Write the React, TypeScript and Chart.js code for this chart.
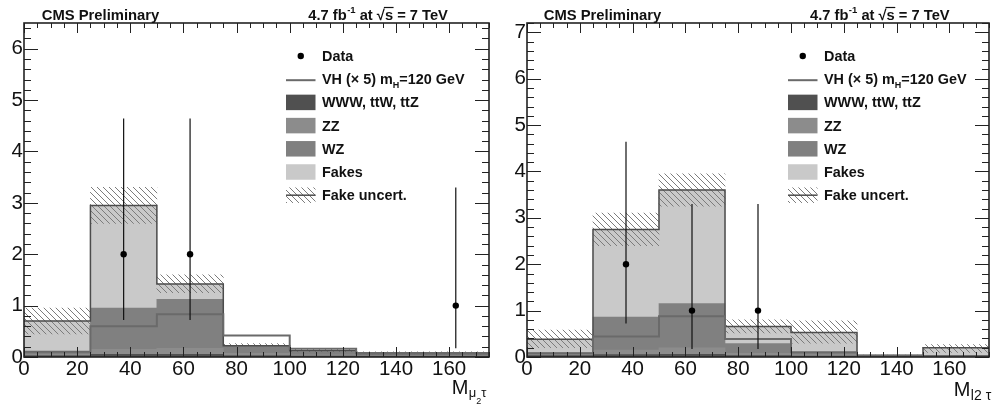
import React, { useEffect, useRef } from 'react';
import { Chart, registerables } from 'chart.js';

Chart.register(...registerables);

// ---------- shared bins / ticks ----------
const binLabels = ['0-25', '25-50', '50-75', '75-100', '100-125', '125-150', '150-175'];
const binEdges = [0, 25, 50, 75, 100, 125, 150, 175];
const legendLabels = ['Data', 'VH (× 5) m', 'WWW, ttW, ttZ', 'ZZ', 'WZ', 'Fakes', 'Fake uncert.'];
const headerLeft = 'CMS Preliminary';

// ---------- left panel: M_{mu2 tau} ----------
const muWWW = [0.03, 0.05, 0.05, 0.03, 0.02, 0.02, 0.02];
const muZZ = [0.02, 0.10, 0.12, 0.04, 0.02, 0.01, 0.01];
const muWZ = [0.05, 0.80, 0.95, 0.15, 0.06, 0.03, 0.03];
const muFakes = [0.60, 2.00, 0.30, 0.00, 0.02, 0.01, 0.01];
const muUncLo = [0.45, 2.60, 1.25, 0.19, 0.09, 0.04, 0.04];
const muUncHi = [0.95, 3.30, 1.60, 0.26, 0.17, 0.10, 0.10];
const muVH = [0.10, 0.60, 0.83, 0.42, 0.16, 0.08, 0.08];
const muDataX = [37.5, 62.5, 162.5];
const muDataY = [2, 2, 1];
const muDataLo = [0.72, 0.72, 0.17];
const muDataHi = [4.64, 4.64, 3.30];

// ---------- right panel: M_{l2 tau} ----------
const lWWW = [0.03, 0.05, 0.06, 0.03, 0.02, 0.01, 0.01];
const lZZ = [0.02, 0.10, 0.14, 0.05, 0.03, 0.01, 0.01];
const lWZ = [0.04, 0.71, 0.95, 0.21, 0.05, 0.01, 0.00];
const lFakes = [0.29, 1.89, 2.45, 0.37, 0.43, 0.00, 0.18];
const lUncLo = [0.20, 2.40, 3.25, 0.52, 0.30, 0.02, 0.10];
const lUncHi = [0.58, 3.10, 3.95, 0.80, 0.78, 0.04, 0.27];
const lVH = [0.08, 0.44, 0.88, 0.39, 0.10, 0.03, 0.02];
const lDataX = [37.5, 62.5, 87.5];
const lDataY = [2, 1, 1];
const lDataLo = [0.72, 0.17, 0.17];
const lDataHi = [4.64, 3.30, 3.30];

const FONT = '"Liberation Sans", Arial, Helvetica, sans-serif';

type Sub = { t: string; size: number; dy: number };
type PanelCfg = {
  www: number[]; zz: number[]; wz: number[]; fakes: number[];
  uncLo: number[]; uncHi: number[]; vh: number[];
  dataX: number[]; dataY: number[]; dataLo: number[]; dataHi: number[];
  yMax: number; yAxisWidth: number; padRight: number;
  legendX: number; headerX: number; lumiX: number;
  titleX: number; titleBase: number; titleSubs: Sub[];
};

const COLORS = {
  www: '#505050',
  zz: '#8c8c8c',
  wz: '#808080',
  fakes: '#c9c9c9',
  vh: '#6a6a6a',
  total: '#4c4c4c',
  hatch: '#7c7c7c',
};

function makeHatch(color: string, s: number): CanvasPattern | string {
  const c = document.createElement('canvas');
  c.width = s; c.height = s;
  const g = c.getContext('2d');
  if (!g) return color;
  g.strokeStyle = color;
  g.lineWidth = 1;
  g.beginPath();
  for (let k = -1; k <= 1; k++) {
    g.moveTo(k * s, 0);
    g.lineTo(k * s + s, s);
  }
  g.stroke();
  return g.createPattern(c, 'repeat') || color;
}

function drawLumi(ctx: CanvasRenderingContext2D, x0: number, y: number) {
  const big = `bold 14.7px ${FONT}`;
  const small = `bold 9.5px ${FONT}`;
  let x = x0;
  ctx.font = big; ctx.fillText('4.7 fb', x, y); x += ctx.measureText('4.7 fb').width + 0.5;
  ctx.font = small; ctx.fillText('-1', x, y - 6.5); x += ctx.measureText('-1').width;
  ctx.font = big;
  ctx.fillText(' at ', x, y); x += ctx.measureText(' at ').width;
  ctx.fillText('√', x, y); x += ctx.measureText('√').width;
  const sw = ctx.measureText('s').width;
  ctx.fillText('s', x, y);
  ctx.save(); ctx.lineWidth = 1.2; ctx.strokeStyle = '#111';
  ctx.beginPath(); ctx.moveTo(x - 1, y - 12); ctx.lineTo(x + sw + 0.5, y - 12); ctx.stroke();
  ctx.restore();
  x += sw;
  ctx.fillText(' = 7 TeV', x, y);
}

function rootPlugin(p: PanelCfg, hatch: CanvasPattern | string) {
  return {
    id: 'rootStyle',
    afterDatasetsDraw(chart: any) {
      const { ctx, chartArea: a } = chart;
      const ys = chart.scales.y;
      const xs = chart.scales.x;
      ctx.save();
      ctx.strokeStyle = '#222';
      ctx.lineWidth = 1;
      ctx.beginPath();
      for (let k = 0; k * 0.2 <= p.yMax + 1e-9; k++) {
        const py = Math.round(ys.getPixelForValue(k * 0.2)) + 0.5;
        const len = k % 5 === 0 ? 14 : 7;
        ctx.moveTo(a.left, py); ctx.lineTo(a.left + len, py);
        ctx.moveTo(a.right, py); ctx.lineTo(a.right - len, py);
      }
      for (let k = 0; k * 5 <= 175; k++) {
        const px = Math.round(xs.getPixelForValue(k * 5)) + 0.5;
        const len = k % 4 === 0 ? 10 : 5;
        ctx.moveTo(px, a.bottom); ctx.lineTo(px, a.bottom - len);
        ctx.moveTo(px, a.top); ctx.lineTo(px, a.top + len);
      }
      ctx.stroke();
      ctx.lineWidth = 1.6;
      ctx.strokeRect(a.left, a.top, a.right - a.left, a.bottom - a.top);
      ctx.restore();
    },
    afterDraw(chart: any) {
      const ctx: CanvasRenderingContext2D = chart.ctx;
      ctx.save();
      ctx.fillStyle = '#111';
      ctx.textBaseline = 'alphabetic';
      ctx.textAlign = 'left';
      // header
      ctx.font = `bold 14.8px ${FONT}`;
      ctx.fillText(headerLeft, p.headerX, 19.5);
      drawLumi(ctx, p.lumiX, 19.5);
      // axis title
      ctx.font = `20px ${FONT}`;
      let tx = p.titleX;
      ctx.fillText('M', tx, p.titleBase);
      tx += ctx.measureText('M').width + 0.5;
      for (const s of p.titleSubs) {
        ctx.font = `${s.size}px ${FONT}`;
        ctx.fillText(s.t, tx, p.titleBase + s.dy);
        tx += ctx.measureText(s.t).width;
      }
      // legend
      const rows = [56, 79.2, 102.4, 125.6, 148.8, 172, 195.2];
      const bx = p.legendX, bw = 29.5, bh = 15.5;
      const textX = bx + bw + 6.5;
      // Data
      ctx.beginPath(); ctx.arc(bx + bw / 2, rows[0], 3.2, 0, Math.PI * 2); ctx.fillStyle = '#000'; ctx.fill();
      // VH line
      ctx.strokeStyle = COLORS.vh; ctx.lineWidth = 2;
      ctx.beginPath(); ctx.moveTo(bx, rows[1] + 1); ctx.lineTo(bx + bw, rows[1] + 1); ctx.stroke();
      // boxes
      const boxCols = [COLORS.www, COLORS.zz, COLORS.wz, COLORS.fakes];
      boxCols.forEach((c, i) => {
        ctx.fillStyle = c;
        ctx.fillRect(bx, rows[2 + i] - bh / 2, bw, bh);
      });
      // hatch
      ctx.fillStyle = hatch as any;
      ctx.fillRect(bx, rows[6] - bh / 2, bw, bh);
      ctx.strokeStyle = COLORS.total; ctx.lineWidth = 1.5;
      ctx.beginPath(); ctx.moveTo(bx, rows[6]); ctx.lineTo(bx + bw, rows[6]); ctx.stroke();
      // texts
      ctx.fillStyle = '#111';
      const lf = `bold 14.4px ${FONT}`;
      legendLabels.forEach((t, i) => {
        const by = rows[i] + 5;
        ctx.font = lf;
        ctx.fillText(t, textX, by);
        if (i === 1) {
          let x2 = textX + ctx.measureText(t).width;
          ctx.font = `bold 9px ${FONT}`;
          ctx.fillText('H', x2, by + 4);
          x2 += ctx.measureText('H').width;
          ctx.font = lf;
          ctx.fillText('=120 GeV', x2, by);
        }
      });
      ctx.restore();
    },
  };
}

function Panel({ cfg, width, height }: { cfg: PanelCfg; width: number; height: number }) {
  const ref = useRef<HTMLCanvasElement | null>(null);
  useEffect(() => {
    if (!ref.current) return;
    const hatch = makeHatch(COLORS.hatch, 6);
    const total = cfg.www.map((_, i) => cfg.www[i] + cfg.zz[i] + cfg.wz[i] + cfg.fakes[i]);
    const stepPts = (vals: number[]) => binEdges.map((x, i) => ({ x, y: vals[Math.min(i, vals.length - 1)] }));
    const errPts: any[] = [];
    cfg.dataX.forEach((x, i) => {
      errPts.push({ x, y: cfg.dataLo[i] }, { x, y: cfg.dataHi[i] }, { x, y: null });
    });
    const barCommon = { xAxisID: 'bin', yAxisID: 'y', grouped: false, barPercentage: 1, categoryPercentage: 1, borderWidth: 0, order: 5 };
    const tickFont = { family: FONT, size: 20.5 };
    const chart = new Chart(ref.current, {
      type: 'bar',
      data: {
        datasets: [
          { type: 'line', label: 'Data', data: cfg.dataX.map((x, i) => ({ x, y: cfg.dataY[i] })), showLine: false, pointRadius: 3.2, pointBackgroundColor: '#000', pointBorderWidth: 0, xAxisID: 'x', yAxisID: 'y', order: 0 } as any,
          { type: 'line', label: 'Data error', data: errPts, borderColor: '#111', borderWidth: 1.2, pointRadius: 0, spanGaps: false, fill: false, xAxisID: 'x', yAxisID: 'y', order: 1 } as any,
          { type: 'line', label: 'VH (x5) mH=120 GeV', data: stepPts(cfg.vh), stepped: true, borderColor: COLORS.vh, borderWidth: 2, pointRadius: 0, fill: false, xAxisID: 'x', yAxisID: 'y', order: 2 } as any,
          { type: 'line', label: 'Total', data: stepPts(total), stepped: true, borderColor: COLORS.total, borderWidth: 1.5, pointRadius: 0, fill: false, xAxisID: 'x', yAxisID: 'y', order: 3 } as any,
          { type: 'bar', label: 'Fake uncert.', data: cfg.uncLo.map((l, i) => [l, cfg.uncHi[i]]), backgroundColor: hatch, ...barCommon, order: 4 } as any,
          { type: 'bar', label: 'WWW, ttW, ttZ', data: cfg.www, backgroundColor: COLORS.www, stack: 'bg', ...barCommon } as any,
          { type: 'bar', label: 'ZZ', data: cfg.zz, backgroundColor: COLORS.zz, stack: 'bg', ...barCommon } as any,
          { type: 'bar', label: 'WZ', data: cfg.wz, backgroundColor: COLORS.wz, stack: 'bg', ...barCommon } as any,
          { type: 'bar', label: 'Fakes', data: cfg.fakes, backgroundColor: COLORS.fakes, stack: 'bg', ...barCommon } as any,
        ],
      },
      options: {
        responsive: false,
        animation: false,
        devicePixelRatio: 1,
        events: [],
        layout: { padding: { top: 23, right: cfg.padRight, left: 0, bottom: 0 } },
        plugins: { legend: { display: false }, tooltip: { enabled: false }, title: { display: false } },
        scales: {
          x: {
            type: 'linear', position: 'bottom', min: 0, max: 175, offset: false,
            ticks: { stepSize: 20, includeBounds: false, padding: 0, color: '#111', font: tickFont, maxRotation: 0, autoSkip: false },
            grid: { display: false, drawTicks: false },
            border: { display: false },
            afterFit: (s: any) => { s.height = height - 357; },
          },
          bin: {
            type: 'category', axis: 'x', position: 'bottom', labels: binLabels, display: false, offset: true,
            grid: { display: false },
          },
          y: {
            type: 'linear', position: 'left', min: 0, max: cfg.yMax,
            ticks: { stepSize: 1, includeBounds: false, padding: 1, color: '#111', font: tickFont },
            grid: { display: false, drawTicks: false },
            border: { display: false },
            afterFit: (s: any) => { s.width = cfg.yAxisWidth; },
          },
        } as any,
      },
      plugins: [rootPlugin(cfg, hatch) as any],
    });
    return () => chart.destroy();
  }, [cfg, width, height]);
  return <canvas ref={ref} width={width} height={height} style={{ width, height, display: 'block' }} />;
}

const leftCfg: PanelCfg = {
  www: muWWW, zz: muZZ, wz: muWZ, fakes: muFakes, uncLo: muUncLo, uncHi: muUncHi, vh: muVH,
  dataX: muDataX, dataY: muDataY, dataLo: muDataLo, dataHi: muDataHi,
  yMax: 6.5, yAxisWidth: 24, padRight: 7,
  legendX: 286, headerX: 41.7, lumiX: 308.3,
  titleX: 451.7, titleBase: 394,
  titleSubs: [{ t: 'μ', size: 13, dy: 3 }, { t: '2', size: 9, dy: 10 }, { t: 'τ', size: 13, dy: 3 }],
};

const rightCfg: PanelCfg = {
  www: lWWW, zz: lZZ, wz: lWZ, fakes: lFakes, uncLo: lUncLo, uncHi: lUncHi, vh: lVH,
  dataX: lDataX, dataY: lDataY, dataLo: lDataLo, dataHi: lDataHi,
  yMax: 7.2, yAxisWidth: 30, padRight: 2,
  legendX: 291, headerX: 46.7, lumiX: 313,
  titleX: 456.7, titleBase: 396,
  titleSubs: [{ t: 'l2 τ', size: 14, dy: 4 }],
};

export default function App() {
  return (
    <div style={{ position: 'absolute', left: 0, top: 0, width: 993, height: 409, background: '#fff', overflow: 'hidden' }}>
      <div style={{ position: 'absolute', left: 0, top: 0 }}>
        <Panel cfg={leftCfg} width={496} height={409} />
      </div>
      <div style={{ position: 'absolute', left: 497, top: 0 }}>
        <Panel cfg={rightCfg} width={496} height={409} />
      </div>
    </div>
  );
}
